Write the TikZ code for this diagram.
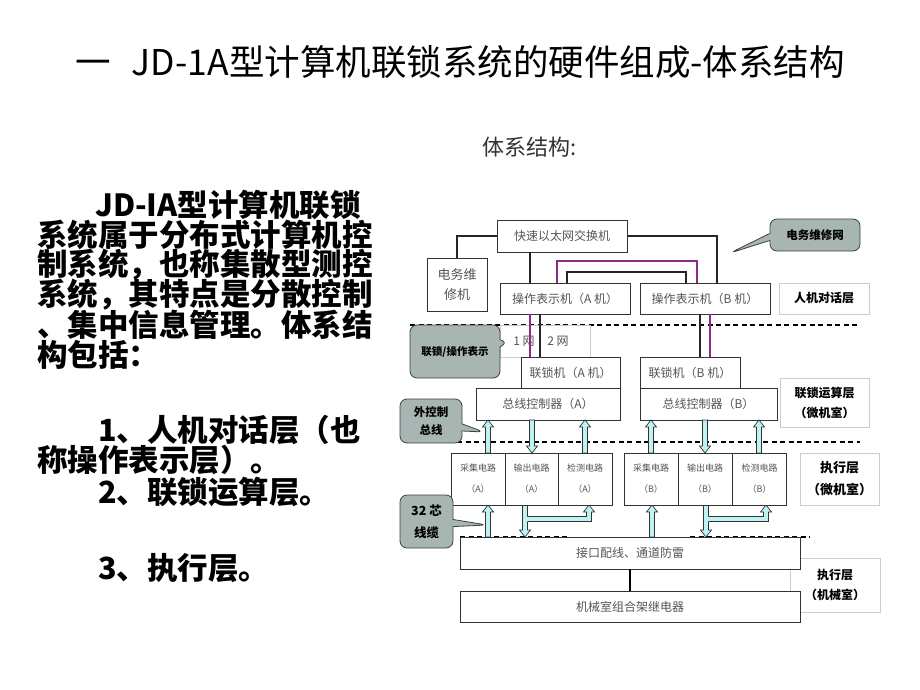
\documentclass[tikz,border=0pt]{standalone}
\usepackage{fontspec}
\setmainfont{Noto Sans CJK SC}
\usetikzlibrary{shapes.callouts}
\definecolor{boxtext}{HTML}{555555}
\definecolor{callfill}{HTML}{A7B6B3}
\definecolor{pipefill}{HTML}{BFF3F3}
\definecolor{netpurple}{HTML}{8B2A8B}
\definecolor{layerline}{HTML}{CCCCCC}

% block arrow: x, base y, tip y
\newcommand{\busarrow}[3]{%
  \pgfmathsetmacro\hd{(#3>#2) ? 7 : -7}%
  \filldraw[pipe] ({#1-2.5},#2) -- ({#1-2.5},{#3-(\hd)}) -- ({#1-5.5},{#3-(\hd)}) -- (#1,#3)
    -- ({#1+5.5},{#3-(\hd)}) -- ({#1+2.5},{#3-(\hd)}) -- ({#1+2.5},#2) -- cycle;}
% branch pipe: stem x, target x
\newcommand{\branchpipe}[2]{%
  \fill[pipefill] ({#1+1.8},516.5) -- ({#2-2.5},516.5) -- ({#2-2.5},512) -- ({#2-5.5},512) -- (#2,505)
    -- ({#2+5.5},512) -- ({#2+2.5},512) -- ({#2+2.5},521.5) -- ({#1+1.8},521.5) -- cycle;
  \draw[pipe, fill=none] ({#1+2.5},516.5) -- ({#2-2.5},516.5) -- ({#2-2.5},512) -- ({#2-5.5},512) -- (#2,505)
    -- ({#2+5.5},512) -- ({#2+2.5},512) -- ({#2+2.5},521.5) -- ({#1+2.5},521.5);}

\begin{document}
\begin{tikzpicture}[x=1pt,y=-1pt,
  dbox/.style={draw=black!80, line width=0.8pt, fill=white, inner sep=0, text=boxtext,
    font=\fontsize{12}{14}\selectfont},
  layerbox/.style={draw=layerline, line width=0.8pt, fill=white, inner sep=0, align=center,
    font=\fontsize{12}{20}\selectfont\bfseries},
  cbox/.style={dbox, minimum width=54, minimum height=52, align=center,
    font=\fontsize{9}{21}\selectfont},
  callbox/.style={rectangle callout, rounded corners=7pt, draw=black!75, line width=0.8pt,
    fill=callfill, inner sep=0, align=center, font=\fontsize{11.5}{18}\selectfont\bfseries},
  pipe/.style={draw=black!80, line width=0.7pt, fill=pipefill},
  layerdash/.style={black, line width=1.5pt, dash pattern=on 5pt off 3.5pt},
  netline/.style={line width=1.6pt, black!85},
  purpleline/.style={line width=1.6pt, netpurple},
  bigtext/.style={anchor=west, inner sep=0, font=\fontsize{30.5}{30.5}\selectfont\bfseries}]
  \useasboundingbox (0,0) rectangle (920,690);

  % Titolo
  \node[inner sep=0, font=\fontsize{35.5}{36}\selectfont] (title) at (460,62)
    {一\hspace{0.6em}JD-1A型计算机联锁系统的硬件组成-体系结构};
  \node[inner sep=0, text=black!80, font=\fontsize{22}{22}\selectfont] (sub) at (530,147) {体系结构:};

  % Testo a sinistra
  \node[bigtext] (t1) at (95,205) {JD-IA型计算机联锁};
  \node[bigtext] (t2) at (37,235) {系统属于分布式计算机控};
  \node[bigtext] (t3) at (37,265) {制系统，也称集散型测控};
  \node[bigtext] (t4) at (37,295) {系统，其特点是分散控制};
  \node[bigtext] (t5) at (37,325) {、集中信息管理。体系结};
  \node[bigtext] (t6) at (37,355) {构包括：};
  \node[bigtext] (t7) at (98,430) {1、人机对话层（也};
  \node[bigtext] (t8) at (37,460) {称操作表示层）。};
  \node[bigtext] (t9) at (98,492) {2、联锁运算层。};
  \node[bigtext] (t10) at (98,568) {3、执行层。};

  % Linee tratteggiate
  \draw[layerdash] (410,325) -- (860,325);
  \draw[layerdash] (440,442) -- (860,442);
  \draw[layerdash, line width=1.2pt] (460,537) -- (570,537);
  \draw[layerdash, line width=1.2pt] (690,537) -- (810,537);

  % Nodi
  \node[dbox, minimum width=130, minimum height=32] (sw) at (562,236) {快速以太网交换机};
  \node[dbox, minimum width=60, minimum height=53, align=center,
    font=\fontsize{13}{20}\selectfont] (dwj) at (457,284.5) {电务维\\修机};
  \node[dbox, minimum width=130, minimum height=31] (opA) at (565,298.5) {操作表示机（A 机）};
  \node[dbox, minimum width=130, minimum height=31] (opB) at (705,298.5) {操作表示机（B 机）};
  \node[layerbox, minimum width=90, minimum height=31] (rj) at (824,298.5) {人机对话层};

  \node[draw=layerline, line width=0.6pt, minimum width=90, minimum height=32, inner sep=0] (wbox) at (545,341) {};
  \node[text=boxtext, font=\fontsize{12}{14}\selectfont] (w1) at (524,341) {1 网};
  \node[text=boxtext, font=\fontsize{12}{14}\selectfont] (w2) at (558,341) {2 网};

  % Reti
  \draw[netline] (sw.west) -| (dwj.north);
  \draw[netline] (530,0 |- sw.south) -- (530,0 |- opA.north);
  \draw[netline] (sw.east) -| (717,0 |- opB.north);
  \draw[purpleline] (557,0 |- opA.north) |- (697,261) -- (697,0 |- opB.north);
  \draw[netline] (567,0 |- opA.north) |- (686,272) -- (686,0 |- opB.north);

  \node[dbox, minimum width=99, minimum height=31] (ljA) at (570.5,372.5) {联锁机（A 机）};
  \node[dbox, minimum width=100, minimum height=31] (ljB) at (690,372.5) {联锁机（B 机）};
  \draw[purpleline] (530,0 |- opA.south) -- (530,0 |- ljA.north);
  \draw[netline] (540,0 |- opA.south) -- (540,0 |- ljA.north);
  \draw[netline] (700,0 |- opB.south) -- (700,0 |- ljB.north);
  \draw[purpleline] (710,0 |- opB.south) -- (710,0 |- ljB.north);

  \node[dbox, minimum width=144, minimum height=32] (bcA) at (548,404) {总线控制器（A）};
  \node[dbox, minimum width=137, minimum height=32] (bcB) at (708.5,404) {总线控制器（B）};
  \node[layerbox, minimum width=89, minimum height=49] (ys) at (824.5,402.5) {联锁运算层\\（微机室）};

  % Frecce del bus
  \busarrow{488}{453}{420}
  \busarrow{532}{420}{453}
  \busarrow{585}{453}{420}
  \busarrow{651}{453}{420}
  \busarrow{705}{420}{453}
  \busarrow{759}{453}{420}
  \busarrow{488}{537}{505}
  \busarrow{525}{505}{537}
  \branchpipe{525}{589}
  \busarrow{652}{537}{505}
  \busarrow{706}{505}{537}
  \branchpipe{706}{766}

  \node[cbox] (cjA) at (478,479) {采集电路\\（A）};
  \node[cbox, minimum width=53] (scA) at (531.5,479) {输出电路\\（A）};
  \node[cbox] (jcA) at (585,479) {检测电路\\（A）};
  \node[cbox] (cjB) at (651,479) {采集电路\\（B）};
  \node[cbox] (scB) at (705,479) {输出电路\\（B）};
  \node[cbox] (jcB) at (759.5,479) {检测电路\\（B）};
  \node[layerbox, minimum width=79, minimum height=52, font=\fontsize{13}{22}\selectfont\bfseries]
    (zx) at (839.5,479) {执行层\\（微机室）};

  \node[layerbox, minimum width=90, minimum height=54] (zj) at (835,585) {执行层\\（机械室）};
  \node[dbox, minimum width=340, minimum height=32] (jk) at (630,553) {接口配线、通道防雷};
  \node[dbox, minimum width=340, minimum height=31] (jx) at (630,606.5) {机械室组合架继电器};
  \draw[line width=1.2pt] (jk.south) -- (jx.north);

  % Didascalie
  \node[callbox, minimum width=90, minimum height=32, callout absolute pointer={(730,253)}]
    (cwx) at (815,235) {电务维修网};
  \node[callbox, minimum width=90, minimum height=53, font=\fontsize{10.5}{12}\selectfont\bfseries,
    callout absolute pointer={(508,342)}] (clj) at (455,351.5) {联锁/操作表示};
  \node[callbox, minimum width=62, minimum height=44, callout absolute pointer={(484,432)}]
    (cwk) at (431,421) {外控制\\总线};
  \node[callbox, minimum width=53, minimum height=53, font=\fontsize{12.5}{22}\selectfont\bfseries,
    callout absolute pointer={(487,525)}] (cxl) at (426.5,521.5) {32 芯\\线缆};
\end{tikzpicture}
\end{document}
